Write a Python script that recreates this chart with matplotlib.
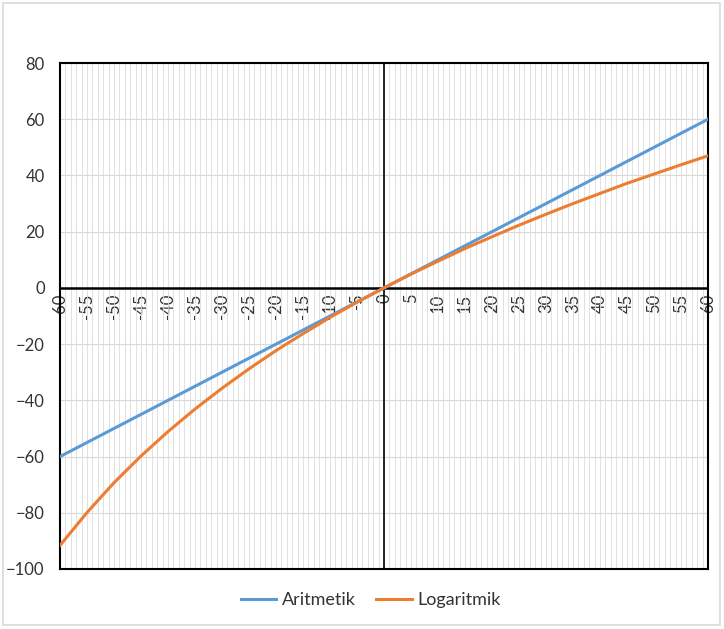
import matplotlib.pyplot as plt
from matplotlib.patches import Rectangle
from matplotlib.ticker import MultipleLocator

plt.rcParams['font.family'] = ['Lato', 'DejaVu Sans']

# returns in percent
x = [-60, -55, -50, -45, -40, -35, -30, -25, -20, -15, -10, -5, 0,
     5, 10, 15, 20, 25, 30, 35, 40, 45, 50, 55, 60]
aritmetik = [-60, -55, -50, -45, -40, -35, -30, -25, -20, -15, -10, -5, 0,
             5, 10, 15, 20, 25, 30, 35, 40, 45, 50, 55, 60]
logaritmik = [-91.6, -79.9, -69.3, -59.8, -51.1, -43.1, -35.7, -28.8, -22.3, -16.3, -10.5, -5.1, 0,
              4.9, 9.5, 14.0, 18.2, 22.3, 26.2, 30.0, 33.6, 37.2, 40.5, 43.8, 47.0]
xticks = list(range(-60, 61, 5))

fig = plt.figure(figsize=(7.24, 6.29), dpi=100)
ax = fig.add_axes([0.0829, 0.0954, 0.8950, 0.8044])

ax.plot(x, aritmetik, color='#5B9BD5', lw=2.2, label='Aritmetik', zorder=3)
ax.plot(x, logaritmik, color='#ED7D31', lw=2.2, label='Logaritmik', zorder=3)

ax.set_xlim(-60, 60)
ax.set_ylim(-100, 80)
ax.yaxis.set_major_locator(MultipleLocator(20))
ax.xaxis.set_minor_locator(MultipleLocator(1))
ax.xaxis.set_major_locator(MultipleLocator(5))
ax.grid(axis='y', which='major', color='#d9d9d9', lw=0.8)
ax.grid(axis='x', which='both', color='#dcdcdc', lw=0.6)
ax.set_axisbelow(True)
ax.tick_params(axis='x', which='both', length=0, labelbottom=False)
ax.tick_params(axis='y', length=0, labelsize=12, labelcolor='#333333', pad=11)
for s in ax.spines.values():
    s.set_color('black')
    s.set_linewidth(1.5)

ax.axhline(0, color='black', lw=1.8, zorder=2)
ax.axvline(0, color='black', lw=1.2, zorder=2)

# x tick labels sit under the y=0 line
loc = (0 - (-100)) / (80 - (-100))
sec = ax.secondary_xaxis(loc)
sec.xaxis.set_ticks_position('bottom')
sec.set_xticks(xticks)
sec.set_xticklabels([str(t) for t in xticks], rotation=90, fontsize=12, color='#333333')
sec.tick_params(length=0, pad=4, labelbottom=True, labeltop=False)
for s in sec.spines.values():
    s.set_visible(False)

fig.legend(loc='center', bbox_to_anchor=(0.512, 0.046), ncol=2, frameon=False,
           fontsize=13, handlelength=1.95, columnspacing=1.15, handletextpad=0.3,
           labelcolor='#333333')

fig.patches.append(Rectangle((0.004, 0.006), 0.99, 0.99, transform=fig.transFigure,
                             fill=False, edgecolor='#d9d9d9', lw=1.2))

plt.savefig('out.png', dpi=100)
